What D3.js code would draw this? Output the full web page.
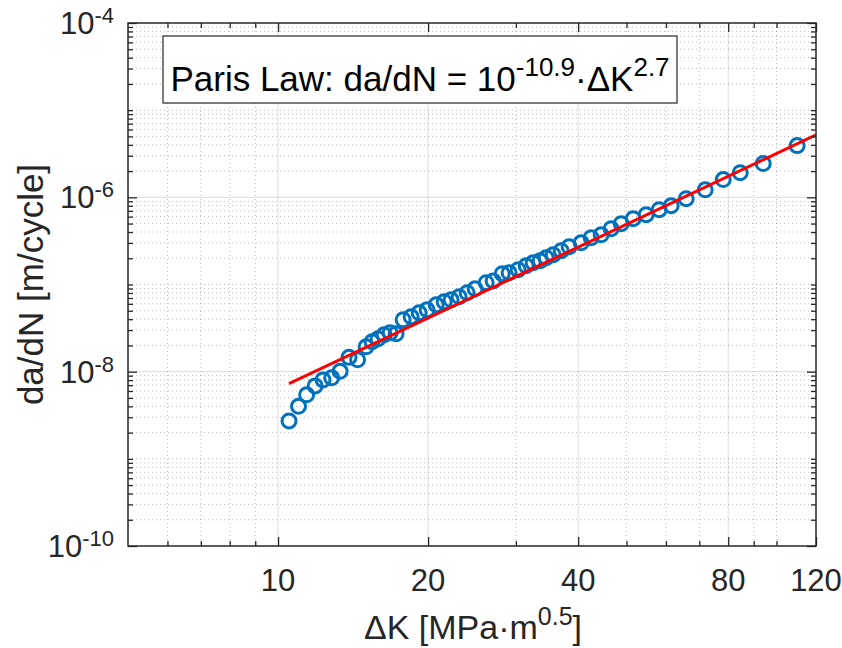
<!DOCTYPE html>
<html><head><meta charset="utf-8">
<script src="https://cdn.jsdelivr.net/npm/d3@7/dist/d3.min.js"></script>
<style>
body{margin:0;background:#fff}
svg{display:block}
text{font-family:"Liberation Sans",Arial,Helvetica,sans-serif;fill:#262626}
</style>
</head><body>
<svg id="chart" width="842" height="648"></svg>
<script>
// ---- data ----
const deltaK = [10.52,10.99,11.41,11.87,12.31,12.81,13.32,13.88,14.44,15.02,15.44,15.87,16.32,16.78,17.25,17.82,18.49,19.19,19.91,20.76,21.54,22.24,23.08,23.95,24.85,26.15,27.01,28.16,29.08,30.31,31.46,32.49,33.56,34.50,35.64,36.98,38.37,40.56,42.48,44.48,46.59,48.80,51.57,54.76,58.15,61.47,65.88,71.93,78.18,84.56,94.04,110.0];
const dadN = [2.72e-9,4.00e-9,5.42e-9,6.87e-9,8.05e-9,8.49e-9,1.01e-8,1.46e-8,1.37e-8,1.93e-8,2.20e-8,2.38e-8,2.65e-8,2.79e-8,2.72e-8,3.94e-8,4.26e-8,4.73e-8,5.13e-8,5.85e-8,6.34e-8,6.68e-8,7.23e-8,8.04e-8,8.93e-8,1.05e-7,1.10e-7,1.33e-7,1.36e-7,1.48e-7,1.64e-7,1.78e-7,1.87e-7,2.03e-7,2.20e-7,2.44e-7,2.71e-7,3.01e-7,3.44e-7,3.72e-7,4.37e-7,4.99e-7,5.69e-7,6.32e-7,7.21e-7,8.02e-7,9.66e-7,1.22e-6,1.60e-6,1.92e-6,2.44e-6,3.92e-6];
const fitK = [10.52, 120];
const fitRate = [7.3e-9, 5.2e-6];
const xMajorTicks = [10, 20, 40, 80, 120];
const xTickLabels = ["10", "20", "40", "80", "120"];
const xMinorTicks = [6, 7, 8, 9, 30, 50, 60, 70, 90, 100];
const yMajorExponents = [-10, -8, -6, -4];
const xDomain = [5, 120];
const yDomain = [1e-10, 1e-4];

// ---- layout ----
const L = 128, R = 816, T = 23, B = 546;
const svg = d3.select("#chart");
const x = d3.scaleLog().domain(xDomain).range([L, R]);
const y = d3.scaleLog().domain(yDomain).range([B, T]);

const yMajor = yMajorExponents.map(e => Math.pow(10, e));
const yMinor = [];
for (let e = -10; e < -4; e++) {
  for (let k = 1; k <= 9; k++) {
    if (k === 1 && yMajorExponents.includes(e)) continue;
    yMinor.push(k * Math.pow(10, e));
  }
}

const grid = svg.append("g");
grid.selectAll(".mgx").data(xMinorTicks).join("line")
  .attr("x1", d => x(d)).attr("x2", d => x(d)).attr("y1", T).attr("y2", B)
  .attr("stroke", "#262626").attr("stroke-opacity", 0.3).attr("stroke-width", 1)
  .attr("stroke-dasharray", "1,3");
grid.selectAll(".mgy").data(yMinor).join("line")
  .attr("y1", d => y(d)).attr("y2", d => y(d)).attr("x1", L).attr("x2", R)
  .attr("stroke", "#262626").attr("stroke-opacity", 0.3).attr("stroke-width", 1)
  .attr("stroke-dasharray", "1,3");
grid.selectAll(".Mgx").data(xMajorTicks.filter(d => d < xDomain[1])).join("line")
  .attr("x1", d => x(d)).attr("x2", d => x(d)).attr("y1", T).attr("y2", B)
  .attr("stroke", "#262626").attr("stroke-opacity", 0.15).attr("stroke-width", 1);
grid.selectAll(".Mgy").data(yMajor.filter(d => d > yDomain[0] && d < yDomain[1])).join("line")
  .attr("y1", d => y(d)).attr("y2", d => y(d)).attr("x1", L).attr("x2", R)
  .attr("stroke", "#262626").attr("stroke-opacity", 0.15).attr("stroke-width", 1);

svg.append("clipPath").attr("id", "clp").append("rect")
  .attr("x", L).attr("y", T).attr("width", R - L).attr("height", B - T);
const pts = deltaK.map((k, i) => [k, dadN[i]]);
svg.append("g").selectAll("circle").data(pts).join("circle")
  .attr("cx", d => x(d[0])).attr("cy", d => y(d[1])).attr("r", 7)
  .attr("fill", "none").attr("stroke", "#0072BD").attr("stroke-width", 3);

const fitPts = fitK.map((k, i) => [k, fitRate[i]]);
svg.append("path").datum(fitPts)
  .attr("clip-path", "url(#clp)")
  .attr("d", d3.line().x(d => x(d[0])).y(d => y(d[1])))
  .attr("fill", "none").attr("stroke", "#FF0000").attr("stroke-width", 3);

function ticks(axisFn, vals, len, tr) {
  const g = svg.append("g").attr("transform", tr)
    .call(axisFn.tickValues(vals).tickSizeInner(len).tickSizeOuter(0).tickFormat(""));
  g.select(".domain").remove();
  g.selectAll("line").attr("stroke", "#262626").attr("stroke-width", 1.3);
  return g;
}
const majLen = 9, minLen = 5;
ticks(d3.axisBottom(x), xMajorTicks, -majLen, `translate(0,${B})`);
ticks(d3.axisBottom(x), xMinorTicks, -minLen, `translate(0,${B})`);
ticks(d3.axisTop(x), xMajorTicks, -majLen, `translate(0,${T})`);
ticks(d3.axisTop(x), xMinorTicks, -minLen, `translate(0,${T})`);
ticks(d3.axisLeft(y), yMajor, -majLen, `translate(${L},0)`);
ticks(d3.axisLeft(y), yMinor, -minLen, `translate(${L},0)`);
ticks(d3.axisRight(y), yMajor, -majLen, `translate(${R},0)`);
ticks(d3.axisRight(y), yMinor, -minLen, `translate(${R},0)`);

svg.append("rect").attr("x", L).attr("y", T).attr("width", R - L).attr("height", B - T)
  .attr("fill", "none").attr("stroke", "#262626").attr("stroke-width", 1.5);

// x tick labels
svg.append("g").selectAll("text").data(xMajorTicks).join("text")
  .attr("x", d => x(d)).attr("y", B + 45).attr("text-anchor", "middle")
  .attr("font-size", 31).text((d, i) => xTickLabels[i]);

// y tick labels 10^e
const yl = svg.append("g").selectAll("text").data(yMajorExponents).join("text")
  .attr("x", 114).attr("y", d => y(Math.pow(10, d)) + 11).attr("text-anchor", "end")
  .attr("font-size", 31);
yl.append("tspan").text("10");
yl.append("tspan").attr("dy", -11).attr("font-size", 22).text(d => "-" + Math.abs(d));

// axis labels
const xl = svg.append("text").attr("x", 473).attr("y", 639).attr("text-anchor", "middle")
  .attr("font-size", 34);
xl.append("tspan").text("\u0394K [MPa\u00B7m");
xl.append("tspan").attr("dy", -14).attr("font-size", 25).text("0.5");
xl.append("tspan").attr("dy", 14).text("]");

svg.append("text").attr("transform", `translate(43,${(T + B) / 2}) rotate(-90)`)
  .attr("text-anchor", "middle").attr("font-size", 35).text("da/dN [m/cycle]");

// annotation box
const boxX = 163, boxY = 36, boxW = 514, boxH = 67;
svg.append("rect").attr("x", boxX).attr("y", boxY).attr("width", boxW).attr("height", boxH)
  .attr("fill", "#fff").attr("stroke", "#262626").attr("stroke-width", 1.2);
const ann = svg.append("text").attr("x", boxX + boxW / 2).attr("y", boxY + 55)
  .attr("text-anchor", "middle").attr("font-size", 35).style("fill", "#000");
ann.append("tspan").text("Paris Law: da/dN = 10");
ann.append("tspan").attr("dy", -15).attr("font-size", 26).text("-10.9");
ann.append("tspan").attr("dy", 15).text("\u00B7\u0394K");
ann.append("tspan").attr("dy", -15).attr("font-size", 26).text("2.7");
</script>
</body></html>
